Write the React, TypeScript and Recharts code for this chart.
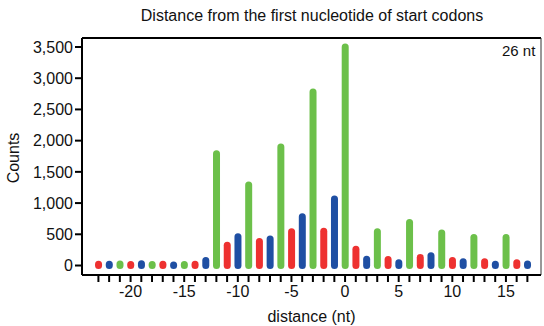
import React from 'react';
import {
  BarChart,
  Bar,
  Cell,
  XAxis,
  YAxis,
  ReferenceLine,
} from 'recharts';

// distance from the first nucleotide of the start codon (nt)
const distances = [
  -23, -22, -21, -20, -19, -18, -17, -16, -15, -14,
  -13, -12, -11, -10, -9, -8, -7, -6, -5, -4,
  -3, -2, -1, 0, 1, 2, 3, 4, 5, 6,
  7, 8, 9, 10, 11, 12, 13, 14, 15, 16, 17,
];

// read counts per position
const counts = [
  20, 20, 25, 15, 30, 15, 20, 10, 15, 20,
  80, 1790, 325, 460, 1290, 385, 425, 1900, 540, 780,
  2780, 550, 1065, 3500, 260, 100, 540, 95, 45, 690,
  130, 155, 520, 80, 60, 450, 60, 20, 450, 45, 25,
];

const yTicks = [0, 500, 1000, 1500, 2000, 2500, 3000, 3500];

// frame colours: 0 -> green, 1 -> red, 2 -> blue
const FRAME_COLORS = ['#6CC04A', '#EE3130', '#1F4FA3'];

const X_MIN = -24.53;
const X_MAX = 18.27;
const Y_MIN = -152;
const Y_MAX = 3644;

const data = distances.map((d, i) => ({ distance: d, count: counts[i] }));

const frameOf = (d: number) => ((d % 3) + 3) % 3;

// bars drawn like thick lines with round caps
const RoundBar = (props: any) => {
  const { x, y, width, height, fill } = props;
  const cap = width / 2;
  return (
    <rect
      x={x}
      y={y - cap}
      width={width}
      height={Math.max(height, 0) + cap * 2}
      rx={cap}
      ry={cap}
      fill={fill}
    />
  );
};

const FONT = '"Liberation Sans", Arial, sans-serif';

const CountsLabel = () => (
  <text
    x={13}
    y={158}
    transform="rotate(-90 13 158)"
    textAnchor="middle"
    dominantBaseline="central"
    fill="#111"
    fontSize={16}
    fontFamily={FONT}
  >
    Counts
  </text>
);

export default function App() {
  return (
    <div style={{ position: 'absolute', left: 0, top: 0, width: 544, height: 326, background: '#fff', fontFamily: FONT }}>
      <div style={{ position: 'absolute', top: 7, left: 0, width: 624, textAlign: 'center', fontSize: 16, color: '#111' }}>
        Distance from the first nucleotide of start codons
      </div>
      <BarChart
        width={544}
        height={326}
        data={data}
        margin={{ top: 38, right: 3, left: 0, bottom: 0 }}
        barSize={7}
      >
        <XAxis
          dataKey="distance"
          type="number"
          domain={[X_MIN, X_MAX]}
          allowDataOverflow
          ticks={distances}
          interval={0}
          tickFormatter={(v: number) => (v % 5 === 0 ? String(v) : '')}
          height={51}
          stroke="#000"
          strokeWidth={2}
          tickSize={7}
          tick={{ fill: '#111', fontSize: 16, fontFamily: FONT, dy: 2 }}
          tickLine={{ stroke: '#000', strokeWidth: 2 }}
          label={{ value: 'distance (nt)', position: 'insideBottom', offset: 4, fill: '#111', fontSize: 16, fontFamily: FONT }}
        />
        <YAxis
          type="number"
          domain={[Y_MIN, Y_MAX]}
          allowDataOverflow
          ticks={yTicks}
          interval={0}
          width={82}
          tickFormatter={(v: number) => v.toLocaleString('en-US')}
          stroke="#000"
          strokeWidth={2}
          tickSize={7}
          tick={{ fill: '#111', fontSize: 16, fontFamily: FONT }}
          tickLine={{ stroke: '#000', strokeWidth: 2 }}
          label={<CountsLabel />}
        />
        <ReferenceLine y={Y_MAX} stroke="#000" strokeWidth={2} />
        <ReferenceLine x={X_MAX} stroke="#333" strokeWidth={1} />
        <Bar dataKey="count" isAnimationActive={false} shape={<RoundBar />}>
          {data.map((row) => (
            <Cell key={row.distance} fill={FRAME_COLORS[frameOf(row.distance)]} />
          ))}
        </Bar>
      </BarChart>
      <div style={{ position: 'absolute', top: 42, left: 502, fontSize: 15, color: '#111' }}>26 nt</div>
    </div>
  );
}
